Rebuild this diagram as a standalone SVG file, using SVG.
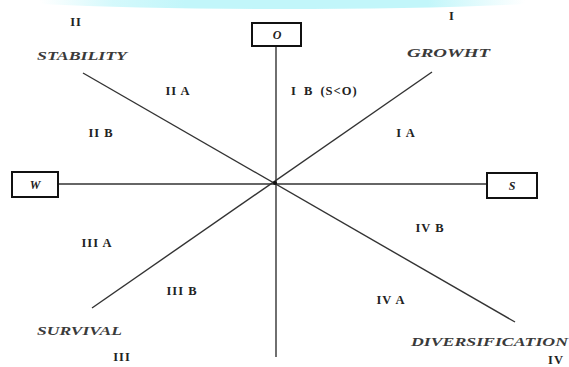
<svg xmlns="http://www.w3.org/2000/svg" width="569" height="367" viewBox="0 0 569 367">
<defs>
<linearGradient id="band" x1="0" y1="0" x2="1" y2="0">
<stop offset="0" stop-color="#c2f6fa" stop-opacity="0"/>
<stop offset="0.15" stop-color="#c2f6fa" stop-opacity="0.7"/>
<stop offset="0.3" stop-color="#c2f6fa" stop-opacity="1"/>
<stop offset="0.8" stop-color="#c2f6fa" stop-opacity="1"/>
<stop offset="1" stop-color="#c2f6fa" stop-opacity="0"/>
</linearGradient>
<style>
.box{fill:#fff;stroke:#111;stroke-width:2}
.ln{stroke:#333;stroke-width:1.4;fill:none}
.lab{font-family:"Liberation Serif",serif;font-size:12.5px;fill:#222;font-weight:bold;letter-spacing:1px}
.it{font-family:"Liberation Serif",serif;font-size:13px;font-style:italic;font-weight:bold;fill:#3a3a3a}
.bx{font-family:"Liberation Serif",serif;font-size:12px;font-style:italic;font-weight:bold;fill:#222;text-anchor:middle}
</style>
</defs>
<rect width="569" height="367" fill="#fff"/>
<path d="M40 0 H525 V4 Q420 9 280 9 Q140 9 40 4 Z" fill="url(#band)"/>
<g id="connectors">
<line class="ln" x1="276" y1="46" x2="276" y2="357"/>
<line class="ln" x1="58" y1="184" x2="487" y2="184"/>
<line class="ln" x1="83" y1="73" x2="515" y2="322"/>
<line class="ln" x1="432" y1="72" x2="92" y2="308"/>
</g>
<circle cx="275" cy="183" r="2" fill="#111"/>
<g id="node-O"><rect class="box" x="252" y="23" width="49" height="23"/><text class="bx" x="277" y="39">O</text></g>
<g id="node-W"><rect class="box" x="12" y="172" width="46" height="25"/><text class="bx" x="35" y="189">W</text></g>
<g id="node-S"><rect class="box" x="487" y="173" width="50" height="25"/><text class="bx" x="512" y="190">S</text></g>
<g id="labels">
<text class="lab" x="76" y="26" text-anchor="middle">II</text>
<text class="lab" x="452" y="20" text-anchor="middle">I</text>
<text class="it" x="37" y="60" textLength="90" lengthAdjust="spacingAndGlyphs">STABILITY</text>
<text class="it" x="407" y="57" textLength="83" lengthAdjust="spacingAndGlyphs">GROWHT</text>
<text class="lab" x="178" y="95" text-anchor="middle">II A</text>
<text class="lab" x="291" y="95" style="word-spacing:3px">I B (S&lt;O)</text>
<text class="lab" x="101" y="137" text-anchor="middle">II B</text>
<text class="lab" x="406" y="137" text-anchor="middle">I A</text>
<text class="lab" x="430" y="232" text-anchor="middle">IV B</text>
<text class="lab" x="97" y="247" text-anchor="middle">III A</text>
<text class="lab" x="182" y="295" text-anchor="middle">III B</text>
<text class="lab" x="391" y="304" text-anchor="middle">IV A</text>
<text class="it" x="37" y="335" textLength="85" lengthAdjust="spacingAndGlyphs">SURVIVAL</text>
<text class="it" x="411" y="346" textLength="157" lengthAdjust="spacingAndGlyphs">DIVERSIFICATION</text>
<text class="lab" x="122" y="361" text-anchor="middle">III</text>
<text class="lab" x="556" y="364" text-anchor="middle">IV</text>
</g>
</svg>
